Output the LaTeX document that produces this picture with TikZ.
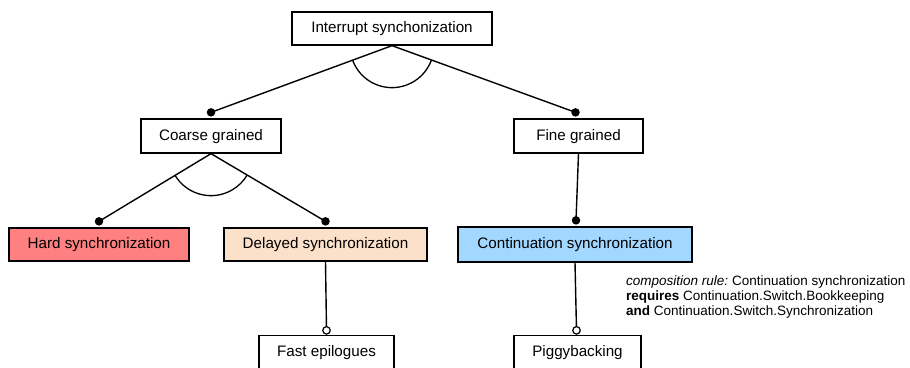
\documentclass[tikz,border=0pt]{standalone}
\usepackage{fontspec}
\setmainfont{Liberation Sans}
\usetikzlibrary{calc}
\definecolor{hardred}{RGB}{255,128,128}
\definecolor{delayedpeach}{RGB}{252,225,202}
\definecolor{contblue}{RGB}{162,216,255}
\begin{document}
\begin{tikzpicture}[x=1pt,y=-1pt,
  feat/.style={draw,line width=1.3pt,inner sep=0pt,minimum height=33pt,
    font=\fontsize{15.2}{18}\selectfont,text height=11pt,text depth=3pt},
  conn/.style={line width=1.4pt},
  mand/.style={circle,fill=black,inner sep=0pt,minimum size=8.5pt},
  opt/.style={circle,draw,fill=white,line width=1.2pt,inner sep=0pt,minimum size=7.5pt},
  altarc/.style={line width=1.3pt}]
\useasboundingbox (0,0) rectangle (910,367);

% features
\node[feat,minimum width=200pt] (root) at (392,28.5) {Interrupt synchonization};
\node[feat,minimum width=140pt,minimum height=34pt] (coarse) at (211,136) {Coarse grained};
\node[feat,minimum width=129pt,minimum height=34pt] (fine) at (578.5,136) {Fine grained};
\node[feat,minimum width=180pt,fill=hardred] (hard) at (99,244.5) {Hard synchronization};
\node[feat,minimum width=203pt,fill=delayedpeach] (delayed) at (325.5,244.5) {Delayed synchronization};
\node[feat,minimum width=234pt,minimum height=35pt,fill=contblue] (cont) at (575,244.5) {Continuation synchronization};
\node[feat,minimum width=135pt] (fast) at (326.5,352) {Fast epilogues};
\node[feat,minimum width=127pt] (piggy) at (577.5,352) {Piggybacking};

% connector end markers
\coordinate (dcoarse) at ($(coarse.north)+(0,-6)$);
\coordinate (dfine) at ($(fine.north)+(-3,-6)$);
\coordinate (dhard) at ($(hard.north)+(0,-6)$);
\coordinate (ddelayed) at ($(delayed.north)+(0,-6)$);
\coordinate (dcont) at ($(cont.north)+(1,-6)$);
\coordinate (ofast) at ($(fast.north)+(0,-4.5)$);
\coordinate (opiggy) at ($(piggy.north)+(-1,-4.5)$);

% connectors
\draw[conn] (root.south) -- (dcoarse);
\draw[conn] (root.south) -- (dfine);
\draw[conn] (coarse.south) -- (dhard);
\draw[conn] (coarse.south) -- (ddelayed);
\draw[conn] (fine.south) -- (dcont);
\draw[conn] (delayed.south) -- (ofast);
\draw[conn] (cont.south) -- (opiggy);

% alternative-group arcs
\draw[altarc] let \p1=($(dcoarse)-(root.south)$), \p2=($(dfine)-(root.south)$),
  \n1={atan2(\y1,\x1)}, \n2={atan2(\y2,\x2)} in
  ($(root.south)+(\n1:42pt)$) arc[start angle=\n1, end angle=\n2, radius=42pt];
\draw[altarc] let \p1=($(dhard)-(coarse.south)$), \p2=($(ddelayed)-(coarse.south)$),
  \n1={atan2(\y1,\x1)}, \n2={atan2(\y2,\x2)} in
  ($(coarse.south)+(\n1:42pt)$) arc[start angle=\n1, end angle=\n2, radius=42pt];

% markers
\node[mand] (mcoarse) at (dcoarse) {};
\node[mand] (mfine) at (dfine) {};
\node[mand] (mhard) at (dhard) {};
\node[mand] (mdelayed) at (ddelayed) {};
\node[mand] (mcont) at (dcont) {};
\node[opt] (mfast) at (ofast) {};
\node[opt] (mpiggy) at (opiggy) {};

% composition rule
\node[anchor=north west,align=left,inner sep=0pt,font=\fontsize{13.5}{15}\selectfont] (rule) at (626,275.5)
  {\textit{composition rule:}~Continuation synchronization\\
   \textbf{requires} Continuation.Switch.Bookkeeping\\
   \textbf{and} Continuation.Switch.Synchronization};
\end{tikzpicture}
\end{document}
